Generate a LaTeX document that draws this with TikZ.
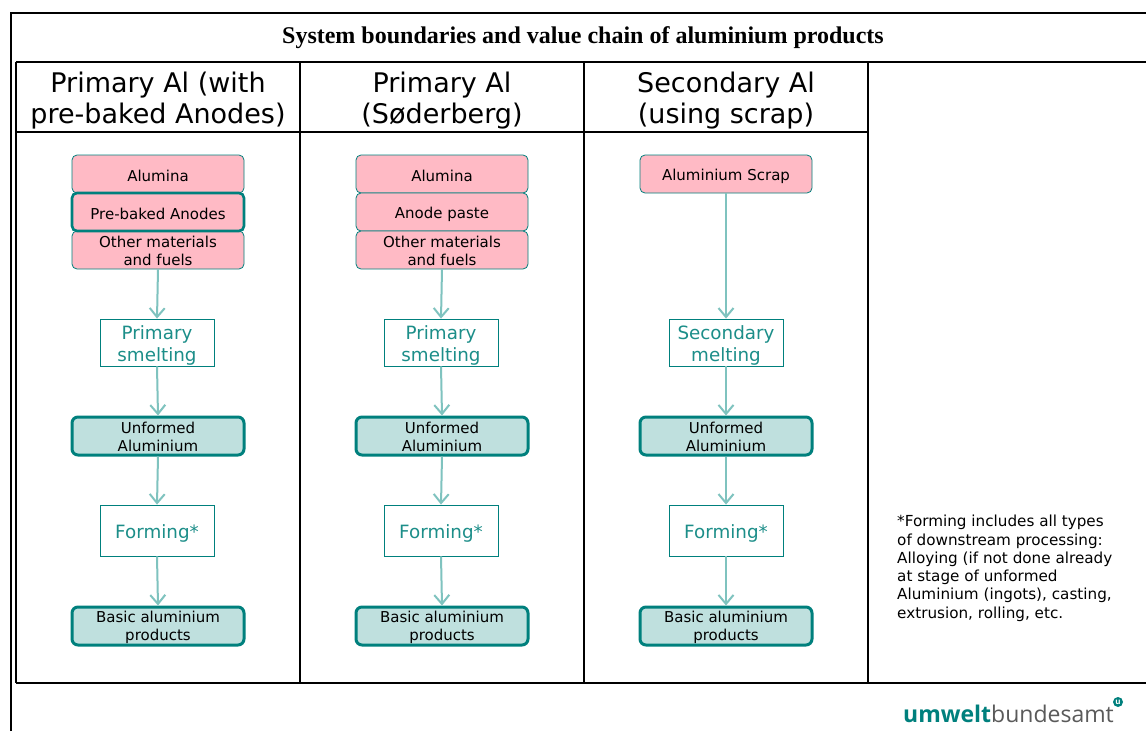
\documentclass[tikz,border=0pt]{standalone}
\usepackage{fontspec}
\setmainfont{DejaVu Sans}
\newfontfamily\titlefont{Liberation Serif}
\newfontfamily\logofont{Open Sans}
\usetikzlibrary{arrows.meta}
\definecolor{teal1}{HTML}{00807D}
\definecolor{tealtxt}{HTML}{1C8E89}
\definecolor{pinkf}{HTML}{FFBAC5}
\definecolor{lteal}{HTML}{BFE0DE}
\definecolor{arrc}{HTML}{7FC3BF}
\definecolor{logogray}{HTML}{5A5A5A}
\tikzset{
  frameline/.style={line width=2pt, black},
  inbox/.style={draw=teal1, line width=0.8pt, fill=pinkf, rounded corners=5pt, minimum width=172pt, minimum height=38pt, inner sep=0pt},
  inboxthick/.style={inbox, line width=2.6pt},
  inbox text/.style={inner sep=0pt, align=center, font=\fontsize{15}{18}\selectfont, text=black},
  inboxthick text/.style={inbox text},
  proc47/.style={draw=teal1, line width=0.8pt, fill=white, minimum width=114pt, minimum height=47pt, inner sep=0pt},
  proc51/.style={proc47, minimum height=51pt},
  proc47 text/.style={inner sep=0pt, align=center, font=\fontsize{18.3}{22}\selectfont, text=tealtxt},
  proc51 text/.style={proc47 text},
  outbox/.style={draw=teal1, line width=3pt, fill=lteal, rounded corners=6pt, minimum width=172pt, minimum height=38pt, inner sep=0pt},
  outbox text/.style={inbox text},
  flow/.style={draw=arrc, line width=2pt, -{Straight Barb[length=9pt, width=15pt, line width=2pt]}},
  header/.style={align=center, font=\fontsize{27}{31}\selectfont, text=black},
}
\newcommand{\mybox}[5]{\node[#1] (#2) at (#3) {}; \node[#1 text] (#2t) at ([yshift=#4]#2.center) {#5};}
\begin{document}
\begin{tikzpicture}[x=1pt, y=-1pt]
\useasboundingbox (0,0) rectangle (1146,731);
\fill[white] (0,0) rectangle (1146,731);
% outer frame
\draw[frameline] (10.5,731) -- (10.5,12.5) -- (1146,12.5);
\node[font=\titlefont\bfseries\fontsize{24}{26}\selectfont] (title) at (583,38) {System boundaries and value chain of aluminium products};
% table
\draw[frameline] (15.5,61.5) -- (1146,61.5);
\draw[frameline] (15.5,683) -- (1146,683);
\draw[frameline] (15.5,61.5) -- (15.5,683);
\draw[frameline] (300,61.5) -- (300,683);
\draw[frameline] (584,61.5) -- (584,683);
\draw[frameline] (868,61.5) -- (868,683);
\draw[frameline] (15.5,132) -- (868,132);
% headers
\node[header] (h1) at (158,101) {Primary Al (with\\pre-baked Anodes)};
\node[header] (h2) at (442,101) {Primary Al\\(Søderberg)};
\node[header] (h3) at (726,101) {Secondary Al\\(using scrap)};
% column 1
\mybox{inbox}{a1}{158,174}{-2pt}{Alumina}
\mybox{inbox}{o1}{158,250}{-1pt}{Other materials\\and fuels}
\mybox{inboxthick}{p1}{158,212}{-2pt}{Pre-baked Anodes}
\mybox{proc47}{s1}{157,342.5}{-2.5pt}{Primary\\smelting}
\mybox{outbox}{u1}{158,436}{-1pt}{Unformed\\Aluminium}
\mybox{proc51}{f1}{157,530.5}{-2.5pt}{Forming*}
\mybox{outbox}{b1}{158,626}{-1pt}{Basic aluminium\\products}
% column 2
\mybox{inbox}{a2}{442,174}{-2pt}{Alumina}
\mybox{inbox}{p2}{442,212}{-2pt}{Anode paste}
\mybox{inbox}{o2}{442,250}{-1pt}{Other materials\\and fuels}
\mybox{proc47}{s2}{441,342.5}{-2.5pt}{Primary\\smelting}
\mybox{outbox}{u2}{442,436}{-1pt}{Unformed\\Aluminium}
\mybox{proc51}{f2}{441,530.5}{-2.5pt}{Forming*}
\mybox{outbox}{b2}{442,626}{-1pt}{Basic aluminium\\products}
% column 3
\mybox{inbox}{a3}{726,174}{-2pt}{Aluminium Scrap}
\mybox{proc47}{s3}{726,342.5}{-2.5pt}{Secondary\\melting}
\mybox{outbox}{u3}{726,436}{-1pt}{Unformed\\Aluminium}
\mybox{proc51}{f3}{726,530.5}{-2.5pt}{Forming*}
\mybox{outbox}{b3}{726,626}{-1pt}{Basic aluminium\\products}
% arrows
\foreach \c in {1,2}{
  \draw[flow] (o\c.south) -- (s\c.north);
}
\draw[flow] (a3.south) -- (s3.north);
\foreach \c in {1,2,3}{
  \draw[flow] (s\c.south) -- (u\c.north);
  \draw[flow] (u\c.south) -- (f\c.north);
  \draw[flow] (f\c.south) -- (b\c.north);
}
% footnote
\node[anchor=north west, align=left, inner sep=0pt, font=\fontsize{15.2}{18.25}\selectfont] (note) at (897,515) {*Forming includes all types\\of downstream processing:\\Alloying (if not done already\\at stage of unformed\\Aluminium (ingots), casting,\\extrusion, rolling, etc.};
% logo
\node[anchor=base west, inner sep=0pt, font=\logofont\fontsize{23}{26}\selectfont] (logo) at (903,722) {\textcolor{teal1}{\bfseries umwelt}\textcolor{logogray}{bundesamt}};
\node[circle, fill=teal1, minimum size=10pt, inner sep=0pt, text=white, font=\logofont\bfseries\fontsize{8}{8}\selectfont] (logou) at (1118,702) {u};
\end{tikzpicture}
\end{document}
